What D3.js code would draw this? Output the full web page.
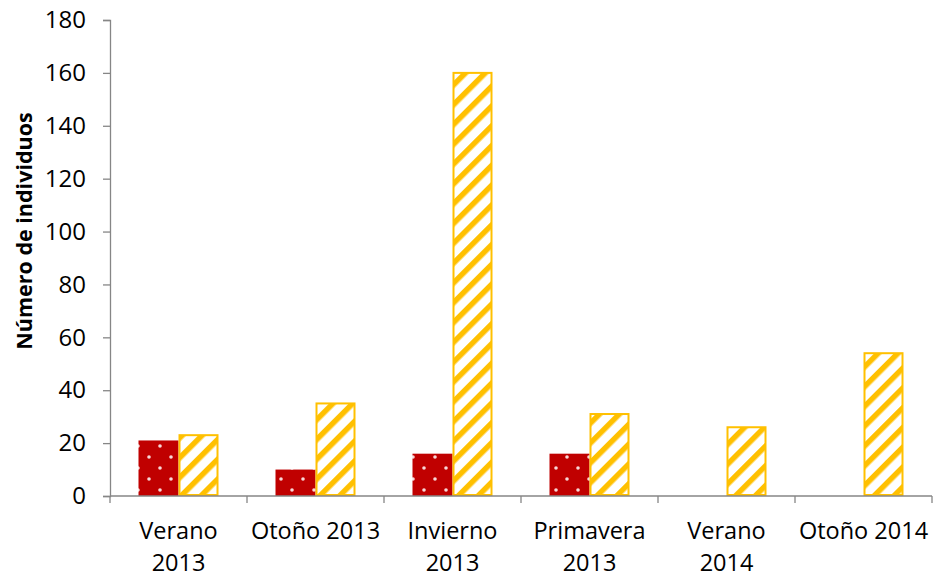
<!DOCTYPE html>
<html>
<head>
<meta charset="utf-8">
<script src="https://cdn.jsdelivr.net/npm/d3@7"></script>
<style>
  html, body { margin: 0; padding: 0; background: #fff; }
  svg { display: block; }
  text { font-family: "Open Sans", Lato, "DejaVu Sans", sans-serif; }
</style>
</head>
<body>
<svg id="chart" width="936" height="578"></svg>
<script>
// Seasons sampled (each label split over two lines)
const categories = [
  ["Verano", "2013"],
  ["Otoño 2013"],
  ["Invierno", "2013"],
  ["Primavera", "2013"],
  ["Verano", "2014"],
  ["Otoño 2014"]
];
// Individuals counted per season, two series
const seriesRed = [21, 10, 16, 16, 0, 0];
const seriesYellow = [23, 35, 160, 31, 26, 54];
const yTicks = [0, 20, 40, 60, 80, 100, 120, 140, 160, 180];

const svg = d3.select("#chart");
const margin = { left: 110, right: 4, top: 20, bottom: 82 };
const W = 936, H = 578;
const FONT = "'Open Sans', Lato, sans-serif";

const x = d3.scaleBand()
  .domain(d3.range(categories.length))
  .range([margin.left, W - margin.right])
  .paddingInner(0).paddingOuter(0);
const y = d3.scaleLinear().domain([0, 180]).range([H - margin.bottom, margin.top]);

// Fill patterns: white dots on dark red, diagonal stripes in amber
const defs = svg.append("defs");
const dots = defs.append("pattern")
  .attr("id", "dots").attr("patternUnits", "userSpaceOnUse")
  .attr("width", 22).attr("height", 22);
dots.append("rect").attr("width", 22).attr("height", 22).attr("fill", "#C00000");
[[6, 6], [17, 17]].forEach(([cx, cy]) => {
  dots.append("circle").attr("cx", cx).attr("cy", cy).attr("r", 1.8).attr("fill", "#F8D8D8");
});

const stripes = defs.append("pattern")
  .attr("id", "stripes").attr("patternUnits", "userSpaceOnUse")
  .attr("width", 14).attr("height", 14)
  .attr("patternTransform", "rotate(45)");
stripes.append("rect").attr("width", 14).attr("height", 14).attr("fill", "#fff");
stripes.append("rect").attr("x", 0).attr("width", 5.5).attr("height", 14).attr("fill", "#FFC000");

const barW = 40;
const center = i => x(i) + x.bandwidth() / 2;

// Red series bars (left of the category centre)
svg.append("g").selectAll("rect")
  .data(seriesRed)
  .join("rect")
  .attr("x", (d, i) => center(i) - barW)
  .attr("y", d => y(d))
  .attr("width", barW)
  .attr("height", d => y(0) - y(d))
  .attr("fill", "url(#dots)");

// Yellow series bars (right of the category centre)
svg.append("g").selectAll("rect")
  .data(seriesYellow)
  .join("rect")
  .attr("x", (d, i) => center(i) + 1)
  .attr("y", d => y(d))
  .attr("width", barW - 2)
  .attr("height", d => y(0) - y(d) - 1)
  .attr("fill", "url(#stripes)")
  .attr("stroke", "#FFC000")
  .attr("stroke-width", 2);

// Y axis
const yAxis = svg.append("g")
  .attr("transform", `translate(${margin.left},0)`)
  .call(d3.axisLeft(y).tickValues(yTicks).tickSize(7).tickPadding(17).tickFormat(d3.format("d")));
yAxis.select(".domain").attr("stroke", "#868686").attr("stroke-width", 1.3);
yAxis.selectAll(".tick line").attr("stroke", "#868686").attr("stroke-width", 1.3);
yAxis.selectAll(".tick text").attr("font-size", 24).attr("fill", "#000")
  .attr("font-family", FONT);

// X axis with category boundary ticks
const xg = svg.append("g");
xg.append("line")
  .attr("x1", margin.left).attr("x2", W - margin.right)
  .attr("y1", y(0)).attr("y2", y(0))
  .attr("stroke", "#868686").attr("stroke-width", 1.3);
const bounds = d3.range(categories.length + 1).map(i => i < categories.length ? x(i) : x(i - 1) + x.bandwidth());
xg.selectAll("line.tk")
  .data(bounds)
  .join("line").attr("class", "tk")
  .attr("x1", d => d).attr("x2", d => d)
  .attr("y1", y(0)).attr("y2", y(0) + 7)
  .attr("stroke", "#868686").attr("stroke-width", 1.3);

const labels = xg.selectAll("text.cat")
  .data(categories)
  .join("text").attr("class", "cat")
  .attr("text-anchor", "middle")
  .attr("font-size", 23.5)
  .attr("font-family", FONT)
  .attr("fill", "#000");
labels.each(function (lines, i) {
  const t = d3.select(this);
  lines.forEach((ln, k) => {
    t.append("tspan").attr("x", center(i)).attr("y", 539 + k * 32).text(ln);
  });
});

// Y axis title
svg.append("text")
  .attr("transform", `translate(32,${(y(0) + y(180)) / 2 - 27}) rotate(-90)`)
  .attr("text-anchor", "middle")
  .attr("font-size", 21.5)
  .attr("font-weight", "bold")
  .attr("font-family", FONT)
  .attr("fill", "#000")
  .text("Número de individuos");
</script>
</body>
</html>
